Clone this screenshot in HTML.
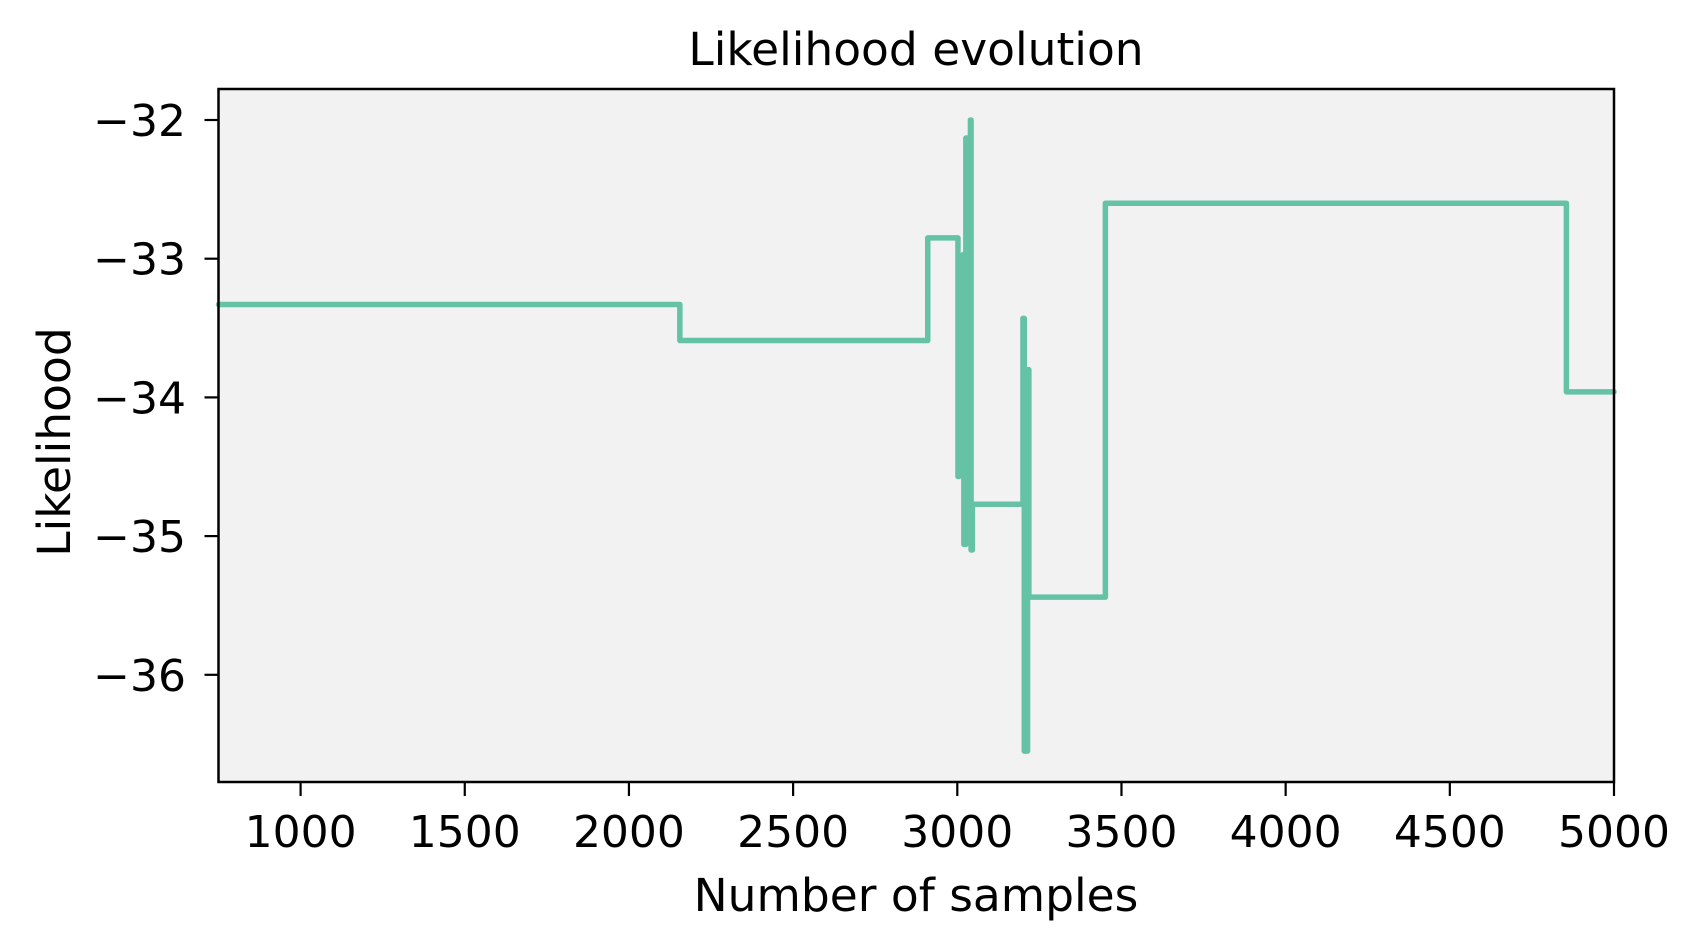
<!DOCTYPE html>
<html><head><meta charset="utf-8"><style>
html,body{margin:0;padding:0;background:#fff;}
svg{display:block;font-family:"DejaVu Sans","Liberation Sans",sans-serif;}
</style></head><body>
<svg id="chart" width="1701" height="948" viewBox="0 0 1701 948" xmlns="http://www.w3.org/2000/svg">
<rect x="218.5" y="89" width="1395.5" height="693" fill="#f2f2f2"/>
<g id="series"></g>
<rect x="218.5" y="89" width="1395.5" height="693" fill="none" stroke="#000" stroke-width="2.5"/>
<g id="xticks"></g>
<g id="yticks"></g>
<text x="916" y="65" font-size="45.5" text-anchor="middle">Likelihood evolution</text>
<text x="916" y="911" font-size="45.5" text-anchor="middle">Number of samples</text>
<text x="0" y="0" font-size="45.5" text-anchor="middle" transform="translate(70,442) rotate(-90)">Likelihood</text>
</svg>
<script>
const sampleCounts = [750, 2155, 2910, 3002, 3005, 3018, 3020, 3026, 3040, 3042, 3046, 3200, 3204, 3214, 3218, 3451, 4855, 5000];
const likelihoods = [-33.33, -33.59, -32.85, -34.57, -33.25, -32.97, -35.06, -32.13, -32.00, -35.10, -34.77, -33.43, -36.55, -33.80, -35.44, -32.60, -33.96, -33.96];
const xTickValues = [1000, 1500, 2000, 2500, 3000, 3500, 4000, 4500, 5000];
const yTickValues = [-32, -33, -34, -35, -36];

const NS = 'http://www.w3.org/2000/svg';
const X0 = 218.5, X1 = 1614, XMIN = 750, XMAX = 5000;
function xScale(v){ return X0 + (v - XMIN) / (XMAX - XMIN) * (X1 - X0); }
function yScale(v){ return 120 + (-32 - v) * 138.7; }

let d = '';
for (let i = 0; i < sampleCounts.length; i++) {
  const x = xScale(sampleCounts[i]), y = yScale(likelihoods[i]);
  if (i === 0) d += 'M' + x + ' ' + y;
  else { d += ' H' + x + ' V' + y; }
}
const path = document.createElementNS(NS, 'path');
path.setAttribute('d', d);
path.setAttribute('fill', 'none');
path.setAttribute('stroke', '#66c2a5');
path.setAttribute('stroke-width', '5.5');
path.setAttribute('stroke-linejoin', 'round');
path.setAttribute('stroke-linecap', 'round');


document.getElementById('series').appendChild(path);

const xg = document.getElementById('xticks');
xTickValues.forEach(v => {
  const x = xScale(v);
  const t = document.createElementNS(NS, 'line');
  t.setAttribute('x1', x); t.setAttribute('x2', x);
  t.setAttribute('y1', 782); t.setAttribute('y2', 796);
  t.setAttribute('stroke', '#000'); t.setAttribute('stroke-width', '2.2');
  
  
  xg.appendChild(t);
  const l = document.createElementNS(NS, 'text');
  l.setAttribute('x', x); l.setAttribute('y', 847);
  l.setAttribute('font-size', '44'); l.setAttribute('text-anchor', 'middle');
  l.textContent = String(v);
  
  
  xg.appendChild(l);
});
const yg = document.getElementById('yticks');
yTickValues.forEach(v => {
  const y = yScale(v);
  const t = document.createElementNS(NS, 'line');
  t.setAttribute('x1', 204.5); t.setAttribute('x2', 218.5);
  t.setAttribute('y1', y); t.setAttribute('y2', y);
  t.setAttribute('stroke', '#000'); t.setAttribute('stroke-width', '2.2');
  
  
  yg.appendChild(t);
  const l = document.createElementNS(NS, 'text');
  l.setAttribute('x', 186); l.setAttribute('y', y + 16);
  l.setAttribute('font-size', '44'); l.setAttribute('text-anchor', 'end');
  l.textContent = '\u2212' + Math.abs(v);
  
  
  yg.appendChild(l);
});
</script>
</body></html>
